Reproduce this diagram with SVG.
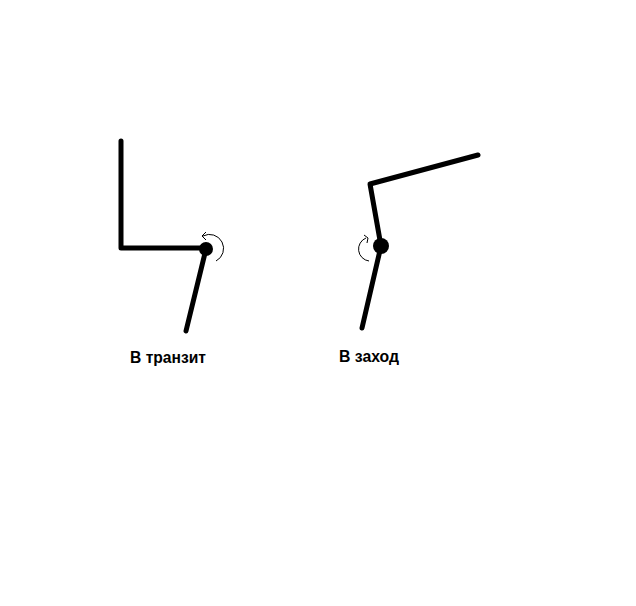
<svg xmlns="http://www.w3.org/2000/svg" width="636" height="606" viewBox="0 0 636 606">
<style>
.bar{fill:none;stroke:#000;stroke-width:5;stroke-linecap:round;stroke-linejoin:round}
.rot{fill:none;stroke:#000;stroke-width:1}
.lbl{font-family:"Liberation Sans",Arial,sans-serif;font-weight:bold;font-size:16px;fill:#000}
</style>
<rect width="636" height="606" fill="#fff"/>
<g id="connectors">
<polyline class="bar" points="121,141 121,248 206,248"/>
<line class="bar" x1="206" y1="249" x2="186" y2="331"/>
<polyline class="bar" points="478,155 370,184 381,246"/>
<line class="bar" x1="381" y1="246" x2="362" y2="328"/>
</g>
<g id="transit">
<circle cx="206" cy="249" r="7"/>
<path class="rot" d="M203,236 A13,13 0 0 1 216,261"/>
<path class="rot" d="M206,232 L202,236 L206,240"/>
<text class="lbl" x="130" y="363" textLength="76" lengthAdjust="spacingAndGlyphs">В транзит</text>
</g>
<g id="zakhod">
<circle cx="381" cy="246" r="8"/>
<path class="rot" d="M366,238 A12,12 0 0 0 369,261"/>
<path class="rot" d="M364,235 L368,238 L367,243"/>
<text class="lbl" x="339" y="362" textLength="60" lengthAdjust="spacingAndGlyphs">В заход</text>
</g>
</svg>
